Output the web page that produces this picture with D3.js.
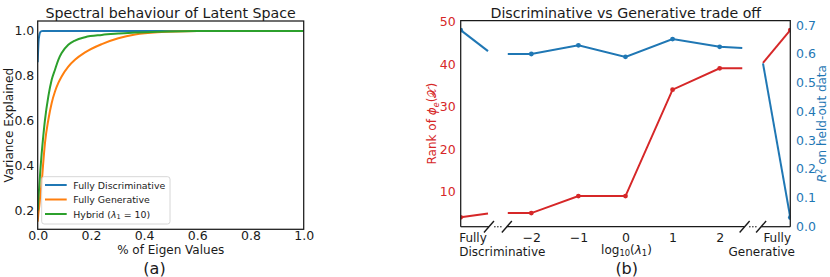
<!DOCTYPE html>
<html>
<head>
<meta charset="utf-8">
<script src="https://cdn.jsdelivr.net/npm/d3@7"></script>
<style>
  body { margin: 0; background: #fff; }
  svg { font-family: "DejaVu Sans", sans-serif; }
</style>
</head>
<body>
<svg id="chart" width="830" height="277"></svg>
<script>
// panel (a): cumulative variance explained vs fraction of eigen values
const eigenFrac = [0, 0.003, 0.006, 0.01, 0.015, 0.02, 0.0274, 0.04, 0.0526, 0.065, 0.0776, 0.09, 0.115, 0.14, 0.178, 0.241, 0.303, 0.366, 0.45, 0.6, 0.8, 1.0];
const varDisc = [0.86, 0.95, 0.98, 0.995, 0.999, 1.0, 1.0, 1.0, 1.0, 1.0, 1.0, 1.0, 1.0, 1.0, 1.0, 1.0, 1.0, 1.0, 1.0, 1.0, 1.0, 1.0];
const varGen = [0.15, 0.19, 0.22, 0.27, 0.323, 0.40, 0.501, 0.604, 0.679, 0.730, 0.768, 0.797, 0.841, 0.871, 0.904, 0.941, 0.967, 0.984, 0.994, 0.999, 1.0, 1.0];
const varHybrid = [0.20, 0.26, 0.31, 0.38, 0.456, 0.52, 0.604, 0.708, 0.782, 0.827, 0.871, 0.901, 0.938, 0.957, 0.972, 0.982, 0.988, 0.993, 0.996, 0.999, 1.0, 1.0];
const seriesA = [
    { name: "Fully Discriminative", values: varDisc, color: "#1f77b4" },
    { name: "Fully Generative", values: varGen, color: "#ff7f0e" },
    { name: "Hybrid", values: varHybrid, color: "#2ca02c" }
];
const ticksA = [0, 0.2, 0.4, 0.6, 0.8, 1.0];
const yTicksA = [0.2, 0.4, 0.6, 0.8, 1.0];

// panel (b): trade off, log10(lambda1) and the two end points
const lambdaLog = [-2, -1, 0, 1, 2];
const rankVals = [5, 9, 9, 34, 39];
const r2Vals = [0.600, 0.630, 0.590, 0.652, 0.625];
const endX = [-3.5, 3.5];           // Fully Discriminative / Fully Generative
const rankEnds = [4, 48];
const r2Ends = [0.683, 0.030];
// line pieces around the axis breaks
const rankLeftStub = [[-3.5, 4], [-2.92, 4.9]];
const rankMain = [[-2.5, 5], [-2, 5], [-1, 9], [0, 9], [1, 34], [2, 39], [2.48, 39]];
const rankRightStub = [[2.92, 40.3], [3.5, 48]];
const r2LeftStub = [[-3.5, 0.683], [-2.92, 0.610]];
const r2Main = [[-2.5, 0.600], [-2, 0.600], [-1, 0.630], [0, 0.590], [1, 0.652], [2, 0.625], [2.48, 0.621]];
const r2RightStub = [[2.92, 0.567], [3.5, 0.030]];
const breaks = [[-2.9, -2.52], [2.53, 2.88]];
const rankTicks = [10, 20, 30, 40, 50];
const r2Ticks = [0, 0.1, 0.2, 0.3, 0.4, 0.5, 0.6, 0.7];

const red = "#d62728", blue = "#1f77b4", ink = "#1a1a1a";
const svg = d3.select("#chart");

// ---------- panel (a) ----------
const xA = d3.scaleLinear().domain([0, 1]).range([37.7, 303.7]);
const yA = d3.scaleLinear().domain([0.116, 1.044]).range([229.3, 21]);

svg.append("clipPath").attr("id", "clipA")
    .append("rect").attr("x", xA(0)).attr("y", yA(1.044))
    .attr("width", xA(1) - xA(0)).attr("height", yA(0.116) - yA(1.044));

const gA = svg.append("g");
const lineA = d3.line().curve(d3.curveMonotoneX);

gA.append("g").attr("clip-path", "url(#clipA)")
    .selectAll("path")
    .data(seriesA)
    .join("path")
    .attr("d", s => lineA(s.values.map((v, i) => [xA(eigenFrac[i]), yA(v)])))
    .attr("fill", "none")
    .attr("stroke", s => s.color)
    .attr("stroke-width", 2);

const axA = gA.append("g").attr("transform", `translate(0,${yA(0.116)})`)
    .call(d3.axisBottom(xA).tickValues(ticksA).tickFormat(d3.format(".1f")).tickSize(0).tickPadding(2));
const ayA = gA.append("g").attr("transform", `translate(${xA(0)},0)`)
    .call(d3.axisLeft(yA).tickValues(yTicksA).tickFormat(d3.format(".1f")).tickSize(0).tickPadding(3.4));
[axA, ayA].forEach(a => {
    a.select(".domain").remove();
    a.selectAll("text").attr("font-size", 12.5).attr("fill", ink).attr("font-family", "DejaVu Sans");
});

gA.append("rect")
    .attr("x", xA(0)).attr("y", yA(1.044))
    .attr("width", xA(1) - xA(0)).attr("height", yA(0.116) - yA(1.044))
    .attr("fill", "none").attr("stroke", ink).attr("stroke-width", 1.25);

gA.append("text").attr("x", 170.7).attr("y", 18.2).attr("text-anchor", "middle")
    .attr("font-size", 14.2).attr("fill", ink).text("Spectral behaviour of Latent Space");
gA.append("text").attr("x", 170.7).attr("y", 254).attr("text-anchor", "middle")
    .attr("font-size", 12).attr("fill", ink).text("% of Eigen Values");
gA.append("text").attr("transform", "translate(12.6,125.2) rotate(-90)").attr("text-anchor", "middle")
    .attr("font-size", 12).attr("fill", ink).text("Variance Explained");
gA.append("text").attr("x", 154.5).attr("y", 273.5).attr("text-anchor", "middle")
    .attr("font-size", 16).attr("fill", ink).text("(a)");

// legend
const leg = gA.append("g");
leg.append("rect").attr("x", 41.7).attr("y", 176.7).attr("width", 128.3).attr("height", 47.3)
    .attr("rx", 2.5).attr("fill", "#fff").attr("fill-opacity", 0.8)
    .attr("stroke", "#cccccc").attr("stroke-width", 0.8);
seriesA.forEach((s, i) => {
    const y = 185 + i * 14.5;
    leg.append("line").attr("x1", 45).attr("x2", 66.7).attr("y1", y).attr("y2", y)
        .attr("stroke", s.color).attr("stroke-width", 2);
    const t = leg.append("text").attr("x", 73.3).attr("y", y + 3.5)
        .attr("font-size", 9.4).attr("fill", ink);
    if (s.name === "Hybrid") {
        t.append("tspan").text("Hybrid (");
        t.append("tspan").attr("font-style", "italic").text("λ");
        t.append("tspan").attr("font-size", 6.6).attr("dy", 1.8).text("1");
        t.append("tspan").attr("dy", -1.8).text(" = 10)");
    } else {
        t.text(s.name);
    }
});

// ---------- panel (b) ----------
const xB = d3.scaleLinear().domain([-3.5, 3.5]).range([460.7, 790.3]);
const yRank = d3.scaleLinear().domain([1.8, 50.2]).range([226.7, 20.7]);
const yR2 = d3.scaleLinear().domain([-0.002, 0.716]).range([226.7, 20.7]);

svg.append("clipPath").attr("id", "clipB")
    .append("rect").attr("x", 460.7).attr("y", 20.7).attr("width", 329.6).attr("height", 206);

const gB = svg.append("g");
const plotB = gB.append("g").attr("clip-path", "url(#clipB)");

const lineRank = d3.line().x(d => xB(d[0])).y(d => yRank(d[1]));
const lineR2 = d3.line().x(d => xB(d[0])).y(d => yR2(d[1]));

plotB.selectAll("path.rank")
    .data([rankLeftStub, rankMain, rankRightStub])
    .join("path").attr("class", "rank")
    .attr("d", lineRank).attr("fill", "none").attr("stroke", red).attr("stroke-width", 2);
plotB.selectAll("path.r2")
    .data([r2LeftStub, r2Main, r2RightStub])
    .join("path").attr("class", "r2")
    .attr("d", lineR2).attr("fill", "none").attr("stroke", blue).attr("stroke-width", 2);

const rankPts = lambdaLog.map((x, i) => [x, rankVals[i]]).concat(endX.map((x, i) => [x, rankEnds[i]]));
const r2Pts = lambdaLog.map((x, i) => [x, r2Vals[i]]).concat(endX.map((x, i) => [x, r2Ends[i]]));
plotB.selectAll("circle.rank").data(rankPts).join("circle").attr("class", "rank")
    .attr("cx", d => xB(d[0])).attr("cy", d => yRank(d[1])).attr("r", 2.4).attr("fill", red);
plotB.selectAll("circle.r2").data(r2Pts).join("circle").attr("class", "r2")
    .attr("cx", d => xB(d[0])).attr("cy", d => yR2(d[1])).attr("r", 2.4).attr("fill", blue);

const axB = gB.append("g").attr("transform", `translate(0,${226.7})`)
    .call(d3.axisBottom(xB).tickValues(lambdaLog).tickFormat(d3.format("d")).tickSize(0).tickPadding(6.8));
const ayRank = gB.append("g").attr("transform", `translate(${460.7},0)`)
    .call(d3.axisLeft(yRank).tickValues(rankTicks).tickSize(0).tickPadding(5));
const ayR2 = gB.append("g").attr("transform", `translate(${790.3},0)`)
    .call(d3.axisRight(yR2).tickValues(r2Ticks).tickFormat(d3.format(".1f")).tickSize(0).tickPadding(5.7));
[axB, ayRank, ayR2].forEach(a => {
    a.select(".domain").remove();
    a.selectAll("text").attr("font-size", 12.5).attr("font-family", "DejaVu Sans");
});
axB.selectAll("text").attr("fill", ink);
ayRank.selectAll("text").attr("fill", red);
ayR2.selectAll("text").attr("fill", blue);

// spines: full left, top, right; bottom broken at the two gaps
const spine = gB.append("g").attr("stroke", ink).attr("stroke-width", 1.25).attr("fill", "none");
spine.append("path").attr("d", `M${xB(-3.5)},226.7V20.7H${xB(3.5)}V226.7`);
const bottomPieces = [[-3.5, breaks[0][0]], [breaks[0][1], breaks[1][0]], [breaks[1][1], 3.5]];
spine.selectAll("line").data(bottomPieces).join("line")
    .attr("x1", d => xB(d[0])).attr("x2", d => xB(d[1])).attr("y1", 226.7).attr("y2", 226.7);

// break marks "/ ... /"
const brk = gB.append("g");
breaks.forEach(b => {
    b.forEach(c => {
        brk.append("line").attr("x1", xB(c) - 5).attr("y1", 232.5).attr("x2", xB(c) + 5).attr("y2", 221)
            .attr("stroke", ink).attr("stroke-width", 1.4);
    });
    const mid = (xB(b[0]) + xB(b[1])) / 2;
    [-3, 0, 3].forEach(o => brk.append("circle").attr("cx", mid + o).attr("cy", 226.7).attr("r", 0.75).attr("fill", ink));
});

// end labels
const endLab = gB.append("g").attr("font-size", 12).attr("fill", ink);
endLab.append("text").attr("x", xB(-3.5) - 1.5).attr("y", 242).text("Fully");
endLab.append("text").attr("x", xB(-3.5) - 1.5).attr("y", 255.6).text("Discriminative");
endLab.append("text").attr("x", 791).attr("y", 242).attr("text-anchor", "end").text("Fully");
endLab.append("text").attr("x", 795).attr("y", 255.6).attr("text-anchor", "end").text("Generative");

gB.append("text").attr("x", 625.8).attr("y", 18.2).attr("text-anchor", "middle")
    .attr("font-size", 14.2).attr("fill", ink).text("Discriminative vs Generative trade off");

const xl = gB.append("text").attr("x", 626.5).attr("y", 253.5).attr("text-anchor", "middle")
    .attr("font-size", 12).attr("fill", ink);
xl.append("tspan").text("log");
xl.append("tspan").attr("font-size", 8.4).attr("dy", 2.5).text("10");
xl.append("tspan").attr("dy", -2.5).text("(");
xl.append("tspan").attr("font-style", "italic").text("λ");
xl.append("tspan").attr("font-size", 8.4).attr("dy", 2.5).text("1");
xl.append("tspan").attr("dy", -2.5).text(")");

const yl = gB.append("text").attr("transform", "translate(436,123.7) rotate(-90)")
    .attr("text-anchor", "middle").attr("font-size", 12).attr("fill", red);
yl.append("tspan").text("Rank of ");
yl.append("tspan").attr("font-style", "italic").text("ϕ");
yl.append("tspan").attr("font-style", "italic").attr("font-size", 8.4).attr("dy", 2.5).text("e");
yl.append("tspan").attr("dy", -2.5).text("(");
yl.append("tspan").text("𝒳");
yl.append("tspan").text(")");

const yr = gB.append("text").attr("transform", "translate(826,123.7) rotate(-90)")
    .attr("text-anchor", "middle").attr("font-size", 12).attr("fill", blue);
yr.append("tspan").attr("font-style", "italic").text("R");
yr.append("tspan").attr("font-size", 8.4).attr("dy", -4.5).text("2");
yr.append("tspan").attr("dy", 4.5).text(" on held-out data");

gB.append("text").attr("x", 626.7).attr("y", 273.5).attr("text-anchor", "middle")
    .attr("font-size", 16).attr("fill", ink).text("(b)");
</script>
</body>
</html>
